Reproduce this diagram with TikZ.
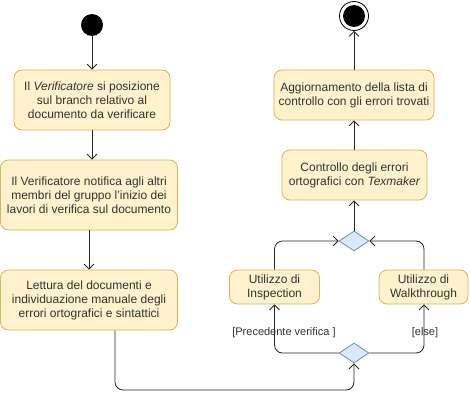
\documentclass[tikz,border=0pt]{standalone}
\usepackage{fontspec}
\setmainfont{Liberation Sans}
\usetikzlibrary{arrows.meta,shapes.geometric}
\definecolor{actfill}{HTML}{FFF2CC}
\definecolor{actdraw}{HTML}{D6B656}
\definecolor{decfill}{HTML}{DAE8FC}
\definecolor{decdraw}{HTML}{6C8EBF}
\definecolor{txt}{HTML}{333333}
\tikzset{
  act/.style={draw=actdraw, fill=actfill, rounded corners=8pt, line width=0.8pt,
    align=center, text=txt, font=\fontsize{12}{14}\selectfont, inner sep=0pt},
  dec/.style={diamond, draw=decdraw, fill=decfill, line width=0.8pt, inner sep=0pt,
    minimum width=30pt, minimum height=20pt},
  flow/.style={draw=black!85, line width=0.8pt, rounded corners=8pt,
    -{Straight Barb[length=5pt,width=10pt,line width=0.8pt]}},
  guard/.style={text=txt, font=\fontsize{11}{13}\selectfont, inner sep=0pt}
}
\begin{document}
\begin{tikzpicture}[x=1pt,y=-1pt]
\useasboundingbox (0,0) rectangle (470,401);
% start / end
\node (start) [circle, fill=black, minimum size=22pt, inner sep=0pt] at (92,25) {};
\node (endo) [circle, draw=black, line width=0.8pt, fill=white, minimum size=29pt, inner sep=0pt] at (354,16) {};
\node (endi) [circle, fill=black, minimum size=22pt, inner sep=0pt] at (354,16) {};
% activities
\node (b1) [act, minimum width=156pt, minimum height=60pt] at (92,100)
  {Il \textit{Verificatore} si posizione\\sul branch relativo al\\documento da verificare};
\node (b2) [act, minimum width=177pt, minimum height=70pt] at (89,195)
  {Il Verificatore notifica agli altri\\membri del gruppo l'inizio dei\\lavori di verifica sul documento};
\node (b3) [act, minimum width=177pt, minimum height=60pt] at (89,300)
  {Lettura del documenti e\\individuazione manuale degli\\errori ortografici e sintattici};
\node (ins) [act, minimum width=90pt, minimum height=34pt] at (274.5,287)
  {Utilizzo di\\Inspection};
\node (wal) [act, minimum width=89pt, minimum height=34pt] at (423.5,287)
  {Utilizzo di\\Walkthrough};
\node (ctl) [act, minimum width=145pt, minimum height=50pt] at (354.5,175)
  {Controllo degli errori\\ortografici con \textit{Texmaker}};
\node (agg) [act, minimum width=160pt, minimum height=50pt] at (354,95)
  {Aggiornamento della lista di\\controllo con gli errori trovati};
% decisions
\node (dlow) [dec] at (354,353) {};
\node (dup) [dec] at (354,241) {};
% guards
\node [guard] at (284,333) {[Precedente verifica ]};
\node [guard] at (425,333) {[else]};
% connectors
\draw[flow] (start) -- (b1);
\draw[flow] (b1.south) -- (b2.north -| b1.south);
\draw[flow] (b2.south) -- (b3.north);
\draw[flow] (b3.south -| 115,0) -- (115,390) -- (354,390) -- (dlow.south);
\draw[flow] (dlow.west) -- (274.5,353) -- (ins.south);
\draw[flow] (dlow.east) -- (424,353) -- (wal.south -| 424,0);
\draw[flow] (ins.north) -- (274.5,241) -- (dup.west);
\draw[flow] (wal.north -| 424,0) -- (424,241) -- (dup.east);
\draw[flow] (dup.north) -- (ctl.south -| dup.north);
\draw[flow] (ctl.north -| agg.south) -- (agg.south);
\draw[flow] (agg.north) -- (endo.south);
\end{tikzpicture}
\end{document}
